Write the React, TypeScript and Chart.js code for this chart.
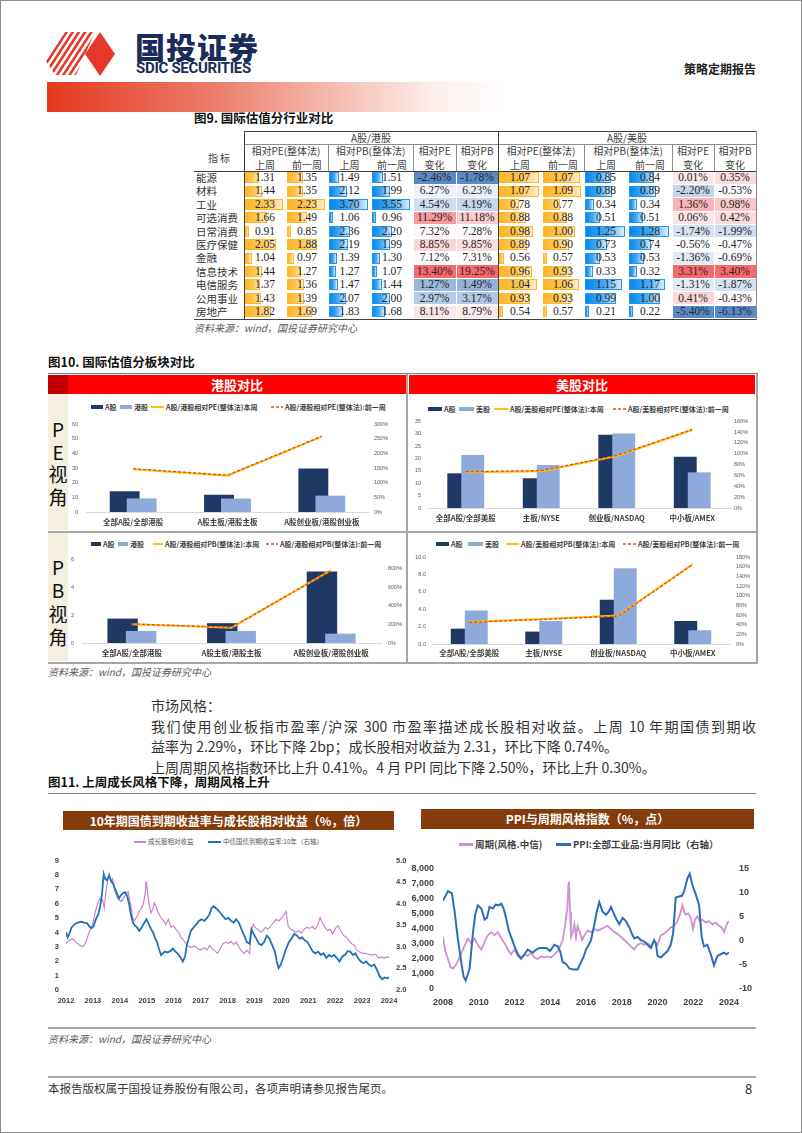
import React, { useEffect, useRef } from "react";
import { Chart, registerables } from "chart.js";

Chart.register(...registerables);

// ---------------- Figure 9 data ----------------
const industries = ["能源", "材料", "工业", "可选消费", "日常消费", "医疗保健", "金融", "信息技术", "电信服务", "公用事业", "房地产"];
const hkPeLast = [1.31, 1.44, 2.33, 1.66, 0.91, 2.05, 1.04, 1.44, 1.37, 1.43, 1.82];
const hkPePrev = [1.35, 1.35, 2.23, 1.49, 0.85, 1.88, 0.97, 1.27, 1.36, 1.39, 1.69];
const hkPbLast = [1.49, 2.12, 3.70, 1.06, 2.36, 2.19, 1.39, 1.27, 1.47, 2.07, 1.83];
const hkPbPrev = [1.51, 1.99, 3.55, 0.96, 2.20, 1.99, 1.30, 1.07, 1.44, 2.00, 1.68];
const hkPeChg = [-2.46, 6.27, 4.54, 11.29, 7.32, 8.85, 7.12, 13.40, 1.27, 2.97, 8.11];
const hkPbChg = [-1.78, 6.23, 4.19, 11.18, 7.28, 9.85, 7.31, 19.25, 1.49, 3.17, 8.79];
const usPeLast = [1.07, 1.07, 0.78, 0.88, 0.98, 0.89, 0.56, 0.96, 1.04, 0.93, 0.54];
const usPePrev = [1.07, 1.09, 0.77, 0.88, 1.00, 0.90, 0.57, 0.93, 1.06, 0.93, 0.57];
const usPbLast = [0.85, 0.88, 0.34, 0.51, 1.25, 0.73, 0.53, 0.33, 1.15, 0.99, 0.21];
const usPbPrev = [0.84, 0.89, 0.34, 0.51, 1.28, 0.74, 0.53, 0.32, 1.17, 1.00, 0.22];
const usPeChg = [0.01, -2.20, 1.36, 0.06, -1.74, -0.56, -1.36, 3.31, -1.31, 0.41, -5.40];
const usPbChg = [0.35, -0.53, 0.98, 0.42, -1.99, -0.47, -0.69, 3.40, -1.87, -0.43, -6.13];

// ---------------- Figure 10 data ----------------
const hkCategories = ["全部A股/全部港股", "A股主板/港股主板", "A股创业板/港股创业板"];
const usCategories = ["全部A股/全部美股", "主板/NYSE", "创业板/NASDAQ", "中小板/AMEX"];
const hkPeA = [14.2, 11.8, 29.8];
const hkPeH = [9.3, 9.2, 11.2];
const hkPeRatioNow = [146, 124, 258];
const hkPeRatioPrev = [148, 126, 259];
const usPeA = [14.0, 12.0, 29.6, 20.7];
const usPeU = [21.4, 17.4, 30.1, 14.4];
const usPeRatioNow = [66, 68, 96, 144];
const usPeRatioPrev = [67, 69, 97, 145];
const hkPbA = [1.75, 1.42, 5.12];
const hkPbH = [0.86, 0.86, 0.67];
const hkPbRatioNow = [202, 165, 783];
const hkPbRatioPrev = [205, 168, 780];
const usPbA = [1.77, 1.43, 5.11, 2.65];
const usPbU = [3.86, 2.65, 8.75, 1.58];
const usPbRatioNow = [46, 52, 59, 166];
const usPbRatioPrev = [45, 51, 58, 165];

// ---------------- Figure 11 data ----------------
const growthYears = [2012.00, 2012.12, 2012.25, 2012.37, 2012.50, 2012.62, 2012.72, 2012.80, 2012.90, 2012.99, 2013.08, 2013.18, 2013.27, 2013.36, 2013.42, 2013.49, 2013.55, 2013.61, 2013.67, 2013.73, 2013.82, 2013.92, 2014.04, 2014.14, 2014.23, 2014.31, 2014.39, 2014.48, 2014.54, 2014.64, 2014.72, 2014.81, 2014.88, 2014.95, 2014.98, 2015.03, 2015.09, 2015.16, 2015.22, 2015.28, 2015.34, 2015.43, 2015.53, 2015.63, 2015.71, 2015.80, 2015.90, 2015.99, 2016.08, 2016.18, 2016.27, 2016.37, 2016.46, 2016.54, 2016.64, 2016.76, 2016.89, 2017.01, 2017.14, 2017.24, 2017.33, 2017.43, 2017.53, 2017.63, 2017.73, 2017.83, 2017.93, 2018.03, 2018.13, 2018.23, 2018.32, 2018.42, 2018.52, 2018.62, 2018.72, 2018.82, 2018.89, 2018.96, 2019.02, 2019.12, 2019.22, 2019.31, 2019.41, 2019.51, 2019.61, 2019.71, 2019.81, 2019.91, 2020.01, 2020.11, 2020.18, 2020.25, 2020.35, 2020.45, 2020.55, 2020.65, 2020.75, 2020.85, 2020.95, 2021.05, 2021.15, 2021.25, 2021.34, 2021.44, 2021.52, 2021.62, 2021.72, 2021.81, 2021.91, 2022.01, 2022.11, 2022.21, 2022.31, 2022.41, 2022.51, 2022.61, 2022.71, 2022.80, 2022.90, 2023.00, 2023.13, 2023.25, 2023.37, 2023.50, 2023.62, 2023.72, 2023.82, 2023.92, 2024.00];
const growthRatio = [3.22, 3.45, 3.56, 3.33, 3.11, 3.00, 3.22, 3.67, 4.23, 4.57, 5.36, 6.04, 6.37, 6.26, 5.70, 6.94, 7.61, 8.06, 7.50, 7.72, 6.82, 6.37, 6.15, 6.37, 6.71, 6.82, 6.04, 5.02, 4.80, 5.14, 5.47, 5.70, 6.04, 6.82, 7.57, 6.82, 5.92, 5.36, 5.59, 6.04, 5.81, 5.36, 5.02, 4.80, 4.57, 4.91, 4.35, 4.46, 4.23, 4.01, 3.67, 3.45, 3.22, 3.06, 2.95, 3.06, 2.88, 2.77, 2.93, 2.77, 3.11, 2.88, 2.70, 2.55, 2.88, 3.22, 3.33, 3.22, 3.38, 3.15, 3.33, 3.00, 2.70, 2.55, 2.77, 2.55, 4.23, 4.57, 4.35, 4.23, 4.01, 4.12, 4.35, 4.23, 4.46, 4.68, 4.91, 4.80, 5.02, 5.25, 5.47, 4.46, 4.23, 4.12, 4.01, 4.12, 3.96, 4.23, 4.35, 4.28, 4.41, 4.23, 4.46, 5.02, 4.68, 4.35, 4.12, 4.23, 3.90, 4.28, 4.46, 4.12, 3.78, 3.67, 3.45, 3.22, 3.11, 2.77, 2.66, 2.55, 2.55, 2.48, 2.43, 2.48, 2.21, 2.32, 2.21, 2.32, 2.25];
const bondYears = [2012.00, 2012.06, 2012.12, 2012.21, 2012.31, 2012.43, 2012.56, 2012.68, 2012.78, 2012.87, 2012.95, 2013.03, 2013.11, 2013.20, 2013.27, 2013.34, 2013.40, 2013.46, 2013.52, 2013.60, 2013.67, 2013.75, 2013.82, 2013.89, 2013.97, 2014.04, 2014.12, 2014.19, 2014.26, 2014.34, 2014.41, 2014.49, 2014.56, 2014.64, 2014.72, 2014.81, 2014.91, 2014.99, 2015.08, 2015.16, 2015.23, 2015.30, 2015.38, 2015.45, 2015.53, 2015.60, 2015.68, 2015.77, 2015.87, 2015.97, 2016.07, 2016.17, 2016.27, 2016.34, 2016.42, 2016.49, 2016.57, 2016.64, 2016.74, 2016.84, 2016.94, 2017.04, 2017.14, 2017.24, 2017.33, 2017.41, 2017.48, 2017.56, 2017.63, 2017.73, 2017.83, 2017.93, 2018.03, 2018.13, 2018.23, 2018.32, 2018.42, 2018.52, 2018.62, 2018.72, 2018.82, 2018.89, 2018.97, 2019.07, 2019.17, 2019.26, 2019.36, 2019.46, 2019.56, 2019.66, 2019.76, 2019.83, 2019.90, 2019.98, 2020.08, 2020.18, 2020.28, 2020.38, 2020.48, 2020.58, 2020.68, 2020.77, 2020.87, 2020.97, 2021.07, 2021.17, 2021.27, 2021.37, 2021.47, 2021.57, 2021.67, 2021.77, 2021.86, 2021.96, 2022.06, 2022.16, 2022.26, 2022.36, 2022.46, 2022.56, 2022.66, 2022.75, 2022.85, 2022.95, 2023.05, 2023.15, 2023.25, 2023.35, 2023.45, 2023.55, 2023.65, 2023.75, 2023.84, 2023.94, 2024.00];
const bondYield = [3.34, 3.22, 3.30, 3.45, 3.52, 3.56, 3.58, 3.56, 3.55, 3.47, 3.43, 3.49, 3.64, 3.75, 3.94, 4.24, 4.69, 4.57, 4.54, 4.65, 4.54, 4.46, 4.35, 4.24, 4.12, 4.20, 4.24, 4.27, 4.20, 4.01, 3.75, 3.56, 3.49, 3.45, 3.37, 3.45, 3.56, 3.64, 3.52, 3.41, 3.34, 3.22, 3.11, 2.96, 2.81, 2.85, 2.89, 2.87, 2.90, 2.96, 2.89, 2.83, 2.74, 2.66, 2.77, 3.04, 3.22, 3.37, 3.45, 3.52, 3.60, 3.64, 3.60, 3.67, 3.75, 3.90, 3.94, 3.90, 3.86, 3.79, 3.71, 3.64, 3.67, 3.60, 3.56, 3.64, 3.56, 3.41, 3.26, 3.11, 3.07, 3.41, 3.30, 3.19, 3.07, 3.04, 3.11, 3.26, 3.19, 3.04, 2.89, 2.66, 2.51, 2.59, 2.77, 2.96, 3.11, 3.19, 3.30, 3.26, 3.19, 3.22, 3.15, 3.11, 3.00, 2.89, 2.85, 2.89, 2.81, 2.85, 2.74, 2.81, 2.77, 2.81, 2.74, 2.66, 2.77, 2.81, 2.90, 2.89, 2.81, 2.85, 2.74, 2.66, 2.62, 2.66, 2.59, 2.55, 2.59, 2.47, 2.32, 2.25, 2.29, 2.27, 2.30];
const cycleYears = [2008.00, 2008.13, 2008.28, 2008.41, 2008.56, 2008.71, 2008.89, 2009.08, 2009.27, 2009.40, 2009.58, 2009.77, 2009.95, 2010.14, 2010.33, 2010.51, 2010.70, 2010.88, 2011.07, 2011.26, 2011.44, 2011.63, 2011.81, 2012.00, 2012.19, 2012.37, 2012.56, 2012.74, 2012.93, 2013.12, 2013.30, 2013.49, 2013.67, 2013.86, 2014.05, 2014.23, 2014.42, 2014.55, 2014.70, 2014.79, 2014.88, 2014.96, 2015.01, 2015.05, 2015.11, 2015.16, 2015.26, 2015.35, 2015.44, 2015.53, 2015.63, 2015.78, 2015.91, 2016.09, 2016.28, 2016.47, 2016.65, 2016.84, 2017.02, 2017.21, 2017.40, 2017.58, 2017.77, 2017.95, 2018.14, 2018.33, 2018.51, 2018.70, 2018.88, 2019.07, 2019.26, 2019.44, 2019.63, 2019.81, 2020.00, 2020.19, 2020.37, 2020.56, 2020.74, 2020.93, 2021.12, 2021.25, 2021.40, 2021.49, 2021.58, 2021.73, 2021.86, 2021.99, 2022.10, 2022.23, 2022.36, 2022.51, 2022.70, 2022.88, 2023.07, 2023.26, 2023.44, 2023.59, 2023.72, 2023.81, 2023.91, 2024.00];
const cycleIndex = [3460, 2510, 1990, 1470, 1360, 1570, 1990, 2510, 3040, 3350, 3040, 3350, 2930, 2620, 3140, 3560, 3770, 3560, 3770, 3350, 3040, 2620, 2300, 2620, 2200, 1990, 2300, 2200, 2410, 2090, 1990, 2160, 2090, 2160, 2090, 2300, 2510, 2830, 3250, 3870, 4710, 5340, 6810, 7120, 5130, 3460, 3770, 4290, 3460, 4190, 3870, 3250, 3560, 3870, 3770, 3980, 3870, 3980, 4080, 4190, 3980, 3770, 3660, 3460, 3250, 3040, 2830, 2620, 2930, 3040, 2930, 3040, 2830, 3140, 2930, 3560, 3660, 3870, 4080, 4190, 4500, 4920, 5550, 5130, 4920, 5030, 4710, 3980, 4610, 4820, 4500, 4610, 4400, 4500, 4290, 4400, 4190, 4080, 3770, 4080, 4400, 4500];
const ppiYears = [2008.00, 2008.28, 2008.50, 2008.65, 2008.84, 2009.02, 2009.15, 2009.27, 2009.49, 2009.67, 2009.80, 2009.95, 2010.14, 2010.33, 2010.46, 2010.60, 2010.79, 2010.94, 2011.11, 2011.26, 2011.39, 2011.53, 2011.68, 2011.81, 2012.00, 2012.19, 2012.37, 2012.56, 2012.74, 2012.87, 2013.02, 2013.21, 2013.40, 2013.58, 2013.77, 2013.99, 2014.23, 2014.42, 2014.55, 2014.70, 2014.88, 2015.07, 2015.26, 2015.53, 2015.72, 2015.85, 2016.00, 2016.15, 2016.28, 2016.47, 2016.60, 2016.74, 2016.93, 2017.12, 2017.27, 2017.40, 2017.58, 2017.71, 2017.86, 2018.05, 2018.23, 2018.42, 2018.57, 2018.70, 2018.88, 2019.07, 2019.26, 2019.44, 2019.63, 2019.81, 2019.91, 2020.00, 2020.19, 2020.37, 2020.56, 2020.74, 2020.87, 2021.02, 2021.21, 2021.36, 2021.49, 2021.67, 2021.80, 2021.95, 2022.14, 2022.33, 2022.47, 2022.60, 2022.79, 2022.98, 2023.16, 2023.35, 2023.53, 2023.72, 2023.85, 2024.00];
const ppiYoY = [8.32, 10.29, 9.83, 6.03, 0.14, -4.44, -7.38, -8.23, -5.75, 1.45, 5.38, 7.34, 6.69, 4.40, 4.73, 7.02, 6.69, 7.47, 7.34, 7.67, 6.69, 4.73, 2.11, 0.80, -1.16, -2.80, -3.65, -2.80, -1.82, -2.15, -2.47, -1.82, -1.49, -1.49, -1.49, -2.15, -0.84, -1.16, -2.15, -4.44, -4.76, -5.75, -5.94, -5.94, -4.44, -3.46, -1.82, -0.84, 0.14, 3.42, 6.03, 8.00, 6.03, 5.38, 6.03, 7.02, 5.38, 4.40, 3.42, 4.73, 4.07, 2.76, 1.45, 0.47, 0.80, 0.14, -0.18, -0.84, -1.49, 0.14, -0.51, -3.13, -3.46, -2.80, -2.15, -0.84, 1.45, 8.98, 9.18, 9.31, 10.29, 12.91, 13.89, 11.60, 9.63, 7.34, 0.80, -1.16, -0.84, -2.80, -5.09, -3.13, -2.80, -2.47, -2.80, -2.47];

// ---------------- fonts / colours ----------------
const CJK = '"Noto Sans CJK SC", "Liberation Sans", sans-serif';
const SERIF = '"Liberation Serif", "Noto Sans CJK SC", serif';
const NAVY = "#1f3864";
const LIGHT = "#8eaadb";
const GOLD = "#ffc000";
const DASHRED = "#e8452c";

// draws datasets in index order (later datasets over earlier ones), keeping bar grouping order
const drawInIndexOrder = {
  id: "drawInIndexOrder",
  beforeDatasetsDraw(chart: any) {
    const n = chart.data.datasets.length;
    for (let i = 0; i < n; i++) {
      const meta = chart.getDatasetMeta(i);
      if (!meta.hidden) meta.controller.draw();
    }
    return false;
  },
};

// ---------------- helpers ----------------
function ChartCanvas({ x, y, w, h, make }: any) {
  const ref = useRef<HTMLCanvasElement>(null);
  useEffect(() => {
    const chart = new Chart(ref.current as HTMLCanvasElement, make());
    return () => chart.destroy();
  }, []);
  return <canvas ref={ref} width={w} height={h} style={{ position: "absolute", left: x, top: y, width: w, height: h }} />;
}

function T({ x, cy, size, children, style }: any) {
  return (
    <div style={{ position: "absolute", left: x, top: cy - size * 0.75, height: size * 1.5, lineHeight: `${size * 1.5}px`, fontSize: size, whiteSpace: "nowrap", fontFamily: CJK, ...style }}>
      {children}
    </div>
  );
}

function Box({ x, y, w, h, bg, style }: any) {
  return <div style={{ position: "absolute", left: x, top: y, width: w, height: h, background: bg, ...style }} />;
}

function comboConfig(p: any) {
  return {
    type: "bar",
    plugins: [drawInIndexOrder],
    data: {
      labels: p.cats,
      datasets: [
        { type: "bar", label: "A股", data: p.a, backgroundColor: NAVY, yAxisID: "y", categoryPercentage: p.cp, barPercentage: p.bp },
        { type: "bar", label: p.bLabel, data: p.b, backgroundColor: LIGHT, yAxisID: "y", categoryPercentage: p.cp, barPercentage: p.bp },
        { type: "line", label: "本周", data: p.now, borderColor: GOLD, borderWidth: 2, pointRadius: 0, yAxisID: "y1", fill: false },
        { type: "line", label: "前一周", data: p.prev, borderColor: DASHRED, borderWidth: 1.3, borderDash: [3, 2], pointRadius: 0, yAxisID: "y1", fill: false },
      ],
    },
    options: {
      responsive: false,
      maintainAspectRatio: false,
      animation: false,
      layout: { padding: { top: p.top, left: 0, right: 0, bottom: 0 } },
      plugins: { legend: { display: false }, tooltip: { enabled: false } },
      scales: {
        x: {
          grid: { display: false, drawTicks: false },
          border: { display: true, color: "#d9d9d9", width: 1 },
          ticks: { font: { family: CJK, size: 7.5, weight: "bold" }, color: "#404040", padding: p.xPad, autoSkip: false, maxRotation: 0 },
          afterFit: (s: any) => { s.height = p.xH; },
        },
        y: {
          position: "left", min: 0, max: p.yMax,
          grid: { display: false, drawTicks: false }, border: { display: false },
          ticks: { stepSize: p.yStep, font: { family: '"Liberation Sans"', size: 5.5 }, color: "#595959", padding: p.lPad, callback: p.yFmt },
          afterFit: (s: any) => { s.width = p.lW; },
        },
        y1: {
          position: "right", min: 0, max: p.y1Max,
          grid: { display: false, drawTicks: false }, border: { display: false },
          ticks: { stepSize: p.y1Step, font: { family: '"Liberation Sans"', size: 5.5 }, color: "#595959", padding: p.rPad, callback: (v: any) => v + "%" },
          afterFit: (s: any) => { s.width = p.rW; },
        },
      },
    },
  };
}

function lineConfig(p: any) {
  const tickFont = { family: '"Liberation Sans", sans-serif', size: p.fs, weight: "bold" };
  return {
    type: "line",
    data: {
      datasets: [
        { label: p.blueLabel, data: p.bx.map((x: number, i: number) => ({ x, y: p.by[i] })), borderColor: p.blue, borderWidth: p.bw, pointRadius: 0, yAxisID: "y1", order: 0 },
        { label: p.purpleLabel, data: p.px.map((x: number, i: number) => ({ x, y: p.py[i] })), borderColor: p.purple, borderWidth: p.pw, pointRadius: 0, yAxisID: "y", order: 1 },
      ],
    },
    options: {
      responsive: false,
      maintainAspectRatio: false,
      animation: false,
      layout: { padding: { top: p.top, left: 0, right: 0, bottom: 0 } },
      plugins: { legend: { display: false }, tooltip: { enabled: false } },
      scales: {
        x: {
          type: "linear", min: p.xMin, max: p.xMax,
          grid: { display: false, drawTicks: false }, border: { display: false },
          ticks: { stepSize: p.xStep, font: tickFont, color: "#404040", padding: p.xPad, callback: (v: any) => String(v), maxRotation: 0 },
          afterFit: (s: any) => { s.height = p.xH; },
        },
        y: {
          position: "left", min: p.yMin, max: p.yMax,
          grid: { display: false, drawTicks: false }, border: { display: false },
          ticks: { stepSize: p.yStep, font: tickFont, color: "#404040", padding: p.lPad, callback: p.yFmt },
          afterFit: (s: any) => { s.width = p.lW; },
        },
        y1: {
          position: "right", min: p.y1Min, max: p.y1Max,
          grid: { display: false, drawTicks: false }, border: { display: false },
          ticks: { stepSize: p.y1Step, font: tickFont, color: "#404040", padding: p.rPad, callback: p.y1Fmt },
          afterFit: (s: any) => { s.width = p.rW; },
        },
      },
    },
  };
}

// ---------------- Figure 9 table ----------------
const colX = [193, 243, 285, 327, 370, 412, 455, 497, 541, 583, 627, 671, 713, 755];
const ROW0 = 170;
const RH = 13.4;

function heatColor(v: number, arr: number[]) {
  const s = [...arr].sort((a, b) => a - b);
  const min = s[0], max = s[s.length - 1], med = s[Math.floor(s.length / 2)];
  const lo = [90, 138, 198], mid = [252, 252, 255], hi = [248, 105, 107];
  let a = lo, b = mid, t = 0;
  if (v <= med) { a = lo; b = mid; t = med === min ? 1 : (v - min) / (med - min); }
  else { a = mid; b = hi; t = (v - med) / (max - med); }
  const c = a.map((x, i) => Math.round(x + (b[i] - x) * t));
  return `rgb(${c.join(",")})`;
}

function Table9() {
  const columns = [hkPeLast, hkPePrev, hkPbLast, hkPbPrev, hkPeChg, hkPbChg, usPeLast, usPePrev, usPbLast, usPbPrev, usPeChg, usPbChg];
  const kinds = ["pe", "pe", "pb", "pb", "chg", "chg", "pe", "pe", "pb", "pb", "chg", "chg"];
  const cells: any[] = [];
  columns.forEach((col, c) => {
    const x0 = colX[c + 1];
    const w = colX[c + 2] - x0;
    const min = Math.min(...col), max = Math.max(...col);
    col.forEach((v, r) => {
      const y0 = ROW0 + r * RH;
      const k = kinds[c];
      if (k === "chg") {
        cells.push(<Box key={`b${c}-${r}`} x={x0 + 0.5} y={y0 + 0.5} w={w - 1} h={RH - 1} bg={heatColor(v, col)} />);
      } else {
        const frac = 0.1 + 0.88 * (v - min) / (max - min);
        const grad = k === "pe"
          ? "linear-gradient(to right, #ffb628 0%, #ffc654 55%, #ffeccb 100%)"
          : "linear-gradient(to right, #008aef 0%, #4aaaf2 55%, #d6ecfc 100%)";
        const bc = k === "pe" ? "#ffb628" : "#2b95e8";
        cells.push(<Box key={`b${c}-${r}`} x={x0 + 1} y={y0 + 1.2} w={(w - 3) * frac} h={RH - 2.4} bg={grad} style={{ boxSizing: "border-box", border: `1px solid ${bc}` }} />);
      }
      const label = k === "chg" ? `${v.toFixed(2)}%` : v.toFixed(2);
      cells.push(
        <div key={`t${c}-${r}`} style={{ position: "absolute", left: x0, top: y0, width: w, height: RH, lineHeight: `${RH}px`, textAlign: "center", fontFamily: SERIF, fontSize: 11.5, color: "#262626" }}>{label}</div>
      );
    });
  });
  const hdr = { fontFamily: CJK, fontSize: 10, color: "#404040", textAlign: "center" as const, position: "absolute" as const };
  const H = (x0: number, x1: number, y0: number, y1: number, text: string, key: string) => (
    <div key={key} style={{ ...hdr, left: x0, width: x1 - x0, top: y0, height: y1 - y0, lineHeight: `${y1 - y0}px` }}>{text}</div>
  );
  const headers: any[] = [];
  headers.push(H(193, 243, 143, 170, "指  标", "zb"));
  headers.push(H(243, 497, 130, 143, "A股/港股", "g1"));
  headers.push(H(497, 755, 130, 143, "A股/美股", "g2"));
  [0, 6].forEach((o) => {
    headers.push(H(colX[1 + o], colX[3 + o], 143, 157, "相对PE(整体法)", `pe${o}`));
    headers.push(H(colX[3 + o], colX[5 + o], 143, 157, "相对PB(整体法)", `pb${o}`));
    headers.push(H(colX[5 + o], colX[6 + o], 143, 157, "相对PE", `cpe${o}`));
    headers.push(H(colX[6 + o], colX[7 + o], 143, 157, "相对PB", `cpb${o}`));
    headers.push(H(colX[1 + o], colX[2 + o], 157, 170, "上周", `a${o}`));
    headers.push(H(colX[2 + o], colX[3 + o], 157, 170, "前一周", `b${o}`));
    headers.push(H(colX[3 + o], colX[4 + o], 157, 170, "上周", `c${o}`));
    headers.push(H(colX[4 + o], colX[5 + o], 157, 170, "前一周", `d${o}`));
    headers.push(H(colX[5 + o], colX[6 + o], 157, 170, "变化", `e${o}`));
    headers.push(H(colX[6 + o], colX[7 + o], 157, 170, "变化", `f${o}`));
  });
  const dark = "#404040", mid = "#8c8c8c";
  return (
    <>
      {cells}
      {headers}
      {industries.map((n, r) => (
        <div key={n} style={{ position: "absolute", left: 195, top: ROW0 + r * RH, height: RH, lineHeight: `${RH}px`, fontFamily: CJK, fontSize: 10.5, color: "#333" }}>{n}</div>
      ))}
      <Box x={243} y={129.5} w={512} h={1} bg={dark} />
      <Box x={243} y={142.5} w={512} h={1} bg={mid} />
      <Box x={193} y={169.5} w={562} h={1.2} bg={dark} />
      <Box x={193} y={317.5} w={562} h={1.5} bg={dark} />
      <Box x={242.5} y={129.5} w={1} h={189} bg={dark} />
      <Box x={496.5} y={129.5} w={1} h={189} bg={dark} />
      <Box x={754.5} y={129.5} w={1} h={189} bg={mid} />
      {[327, 412, 455, 583, 671, 713].map((x) => <Box key={x} x={x - 0.5} y={143} w={1} h={27} bg={mid} />)}
    </>
  );
}

// ---------------- legends ----------------
function MiniLegend({ cy, items }: any) {
  return (
    <>
      {items.map((it: any, i: number) => (
        <React.Fragment key={i}>
          {it[2] === "bar" && <Box x={it[0]} y={cy - 1.8} w={it[1]} h={3.6} bg={it[3]} />}
          {it[2] === "line" && <Box x={it[0]} y={cy - 1} w={it[1]} h={2} bg={it[3]} />}
          {it[2] === "dash" && (
            <svg style={{ position: "absolute", left: it[0], top: cy - 2 }} width={it[1]} height={4}>
              <line x1={0} y1={2} x2={it[1]} y2={2} stroke={it[3]} strokeWidth={1.5} strokeDasharray="3 2" />
            </svg>
          )}
          <T x={it[0] + it[1] + 2} cy={cy} size={it[5] || 7} style={{ fontWeight: 700, color: "#404040" }}>{it[4]}</T>
        </React.Fragment>
      ))}
    </>
  );
}

function Logo() {
  const stripes = [];
  for (let i = 0; i < 9; i++) {
    const x = -14 + i * 6.2;
    stripes.push(<line key={i} x1={x} y1={46} x2={x + 30} y2={0} stroke="#e5382a" strokeWidth={2.6} />);
  }
  return (
    <svg style={{ position: "absolute", left: 44, top: 30 }} width={72} height={46} viewBox="0 0 72 46">
      <defs>
        <clipPath id="lg">
          <polygon points="1,30 20,1 50,1 31,44 10,44" />
        </clipPath>
      </defs>
      <g clipPath="url(#lg)">{stripes}</g>
      <polygon points="40,23 55,1 70,23 55,45" fill="#e5382a" />
    </svg>
  );
}

export default function App() {
  const gray = "#a6a6a6";
  return (
    <div style={{ position: "relative", width: 802, height: 1133, background: "#fff", overflow: "hidden", boxSizing: "border-box", border: "1px solid #8c8c8c", fontFamily: CJK }}>
      <style>{`body{margin:0;}`}</style>

      {/* Header */}
      <Logo />
      <div style={{ position: "absolute", left: 134, top: 27, fontFamily: CJK, fontWeight: 900, fontSize: 30, lineHeight: "36px", color: "#1c2b5a", letterSpacing: 1 }}>国投证券</div>
      <div style={{ position: "absolute", left: 135, top: 59, fontFamily: '"Roboto", "Liberation Sans"', fontWeight: 700, fontSize: 15, lineHeight: "16px", color: "#1c2b5a", transform: "scaleX(1.0)", transformOrigin: "left center", whiteSpace: "nowrap", letterSpacing: -0.3 }}>SDIC SECURITIES</div>
      <T x={683} cy={68} size={12} style={{ fontWeight: 700, color: "#222" }}>策略定期报告</T>
      <Box x={46} y={81} w={456} h={30} bg="linear-gradient(to right, #e5391f 0%, #ec7a66 35%, #f5c0b6 65%, #fdeeeb 85%, #ffffff 100%)" />

      {/* Figure 9 */}
      <T x={193} cy={117} size={12.5} style={{ fontWeight: 700, color: "#111" }}>图9. 国际估值分行业对比</T>
      <Table9 />
      <T x={193} cy={326} size={10} style={{ fontStyle: "italic", color: "#595959" }}>资料来源：wind，国投证券研究中心</T>

      {/* Figure 10 */}
      <T x={47} cy={361} size={12.5} style={{ fontWeight: 700, color: "#111" }}>图10. 国际估值分板块对比</T>
      <Box x={47} y={371.5} w={710} h={1.5} bg="#7f7f7f" />
      <Box x={47} y={374} w={20} h={19} bg="#c00000" />
      <Box x={67} y={374} w={338} h={19} bg="#ff0000" />
      <div style={{ position: "absolute", left: 67, top: 374, width: 338, height: 19, lineHeight: "19px", textAlign: "center", color: "#fff", fontWeight: 700, fontSize: 13, fontFamily: CJK }}>港股对比</div>
      <Box x={408} y={374} w={346} h={19} bg="#ff0000" />
      <div style={{ position: "absolute", left: 408, top: 374, width: 346, height: 19, lineHeight: "19px", textAlign: "center", color: "#fff", fontWeight: 700, fontSize: 13, fontFamily: CJK }}>美股对比</div>
      <Box x={47} y={393} w={20} h={136} bg="#f5efe1" />
      <Box x={47} y={532} w={20} h={128} bg="#f5efe1" />
      {["P", "E", "视", "角"].map((ch, i) => (
        <div key={"pe" + ch} style={{ position: "absolute", left: 47, width: 20, top: 416 + i * 22.7, height: 23, lineHeight: "23px", textAlign: "center", fontSize: 19, fontFamily: CJK, color: "#111" }}>{ch}</div>
      ))}
      {["P", "B", "视", "角"].map((ch, i) => (
        <div key={"pb" + ch} style={{ position: "absolute", left: 47, width: 20, top: 554 + i * 23.3, height: 23, lineHeight: "23px", textAlign: "center", fontSize: 19, fontFamily: CJK, color: "#111" }}>{ch}</div>
      ))}
      <Box x={405} y={373} w={2} h={289} bg={gray} />
      <Box x={755} y={373} w={2} h={289} bg={gray} />
      <Box x={47} y={529.5} w={710} h={2} bg={gray} />
      <Box x={47} y={660.5} w={710} h={2} bg={gray} />

      <MiniLegend cy={406} items={[[90, 12, "bar", NAVY, "A股"], [119, 12, "bar", LIGHT, "港股"], [150, 13, "line", GOLD, "A股/港股相对PE(整体法)本周"], [270, 12, "dash", DASHRED, "A股/港股相对PE(整体法):前一周"]]} />
      <MiniLegend cy={408} items={[[427, 14, "bar", NAVY, "A股"], [458, 15, "bar", LIGHT, "美股"], [493, 14, "line", GOLD, "A股/美股相对PE(整体法):本周"], [612, 13, "dash", DASHRED, "A股/美股相对PE(整体法):前一周"]]} />
      <MiniLegend cy={543} items={[[90, 10, "bar", NAVY, "A股"], [117, 10, "bar", LIGHT, "港股"], [152, 10, "line", GOLD, "A股/港股相对PB(整体法):本周"], [265, 12, "dash", DASHRED, "A股/港股相对PB(整体法):前一周"]]} />
      <MiniLegend cy={543} items={[[435, 13, "bar", NAVY, "A股"], [467, 15, "bar", LIGHT, "美股"], [505, 13, "line", GOLD, "A股/美股相对PB(整体法):本周"], [622, 13, "dash", DASHRED, "A股/美股相对PB(整体法):前一周"]]} />

      <ChartCanvas x={67} y={412} w={337} h={118} make={() => comboConfig({ cats: hkCategories, a: hkPeA, b: hkPeH, bLabel: "港股", now: hkPeRatioNow, prev: hkPeRatioPrev, yMax: 60, yStep: 10, y1Max: 300, y1Step: 50, cp: 0.36, bp: 1.76, lW: 18, rW: 36, top: 6, xH: 19, xPad: 6, lPad: 8, rPad: 5 })} />
      <ChartCanvas x={408} y={410} w={347} h={120} make={() => comboConfig({ cats: usCategories, a: usPeA, b: usPeU, bLabel: "美股", now: usPeRatioNow, prev: usPeRatioPrev, yMax: 35, yStep: 5, y1Max: 160, y1Step: 20, cp: 0.37, bp: 1.64, lW: 19, rW: 26, top: 4, xH: 23, xPad: 6, lPad: 7, rPad: 4 })} />
      <ChartCanvas x={67} y={547} w={337} h={115} make={() => comboConfig({ cats: hkCategories, a: hkPbA, b: hkPbH, bLabel: "港股", now: hkPbRatioNow, prev: hkPbRatioPrev, yMax: 6, yStep: 2, y1Max: 900, y1Step: 100, cp: 0.37, bp: 1.65, lW: 14, rW: 24, top: 6, xH: 20, xPad: 6, lPad: 8, rPad: 7 })} />
      <ChartCanvas x={408} y={547} w={347} h={115} make={() => comboConfig({ cats: usCategories, a: usPbA, b: usPbU, bLabel: "美股", now: usPbRatioNow, prev: usPbRatioPrev, yMax: 10, yStep: 1, yFmt: (v: any) => Number(v).toFixed(1), y1Max: 180, y1Step: 20, cp: 0.376, bp: 1.64, lW: 23, rW: 26, top: 6, xH: 19, xPad: 5, lPad: 6, rPad: 6 })} />
      <T x={47} cy={670} size={10} style={{ fontStyle: "italic", color: "#595959" }}>资料来源：wind，国投证券研究中心</T>

      {/* Paragraph */}
      <div style={{ position: "absolute", left: 150, top: 694, width: 605, fontFamily: CJK, fontSize: 14, lineHeight: "20.6px", color: "#333" }}>
        <div>市场风格：</div>
        <div style={{ textAlign: "justify", textAlignLast: "justify" as any, whiteSpace: "nowrap" }}>我们使用创业板指市盈率/沪深 300 市盈率描述成长股相对收益。上周 10 年期国债到期收</div>
        <div>益率为 2.29%，环比下降 2bp；成长股相对收益为 2.31，环比下降 0.74%。</div>
        <div>上周周期风格指数环比上升 0.41%。4 月 PPI 同比下降 2.50%，环比上升 0.30%。</div>
      </div>

      {/* Figure 11 */}
      <T x={47} cy={781} size={12.5} style={{ fontWeight: 700, color: "#111" }}>图11. 上周成长风格下降，周期风格上升</T>
      <Box x={47} y={791.5} w={708} h={1.5} bg="#7f7f7f" />

      <Box x={62} y={810} w={331} h={19} bg="#843c0c" />
      <div style={{ position: "absolute", left: 62, top: 810, width: 331, height: 19, lineHeight: "19px", textAlign: "center", color: "#fff", fontWeight: 700, fontSize: 12, fontFamily: CJK }}>10年期国债到期收益率与成长股相对收益（%，倍）</div>
      <Box x={420} y={808} w={333} h={20} bg="#843c0c" />
      <div style={{ position: "absolute", left: 420, top: 808, width: 333, height: 20, lineHeight: "20px", textAlign: "center", color: "#fff", fontWeight: 700, fontSize: 12, fontFamily: CJK }}>PPI与周期风格指数（%，点）</div>

      <Box x={133} y={840.3} w={12} h={1.5} bg="#c983cd" />
      <T x={147} cy={841} size={6.5} style={{ color: "#595959" }}>成长股相对收益</T>
      <Box x={207} y={840} w={13} h={2} bg="#1f72b8" />
      <T x={222} cy={841} size={6.5} style={{ color: "#595959" }}>中债国债到期收益率:10年（右轴）</T>

      <Box x={458} y={841.5} w={14} h={3} bg="#cf8fd3" />
      <T x={474} cy={843} size={9.5} style={{ color: "#404040", fontWeight: 700 }}>周期(风格.中信)</T>
      <Box x={555} y={841.5} w={15} h={3} bg="#2a6ebb" />
      <T x={572} cy={843} size={9.5} style={{ color: "#404040", fontWeight: 700 }}>PPI:全部工业品:当月同比（右轴）</T>

      <ChartCanvas x={50} y={848} w={360} h={162} make={() => lineConfig({
        bx: bondYears, by: bondYield, px: growthYears, py: growthRatio,
        blueLabel: "中债国债到期收益率:10年（右轴）", purpleLabel: "成长股相对收益",
        blue: "#1f72b8", purple: "#c983cd", bw: 1.8, pw: 1.2,
        xMin: 2012, xMax: 2024, xStep: 1, yMin: 0, yMax: 9, yStep: 1, y1Min: 2, y1Max: 5, y1Step: 0.5,
        yFmt: (v: any) => String(v), y1Fmt: (v: any) => Number(v).toFixed(1),
        fs: 7.5, lW: 15, rW: 22, top: 8, xH: 21, xPad: 6, lPad: 7, rPad: 7,
      })} />
      <ChartCanvas x={405} y={852} w={360} h={160} make={() => lineConfig({
        bx: ppiYears, by: ppiYoY, px: cycleYears, py: cycleIndex,
        blueLabel: "PPI:全部工业品:当月同比（右轴）", purpleLabel: "周期(风格.中信)",
        blue: "#2a6ebb", purple: "#cf8fd3", bw: 2, pw: 1.8,
        xMin: 2008, xMax: 2024, xStep: 2, yMin: 0, yMax: 8000, yStep: 1000, y1Min: -10, y1Max: 15, y1Step: 5,
        yFmt: (v: any) => Number(v).toLocaleString("en-US"), y1Fmt: (v: any) => String(v),
        fs: 9, lW: 37, rW: 37, top: 9, xH: 24, xPad: 8, lPad: 9, rPad: 10,
      })} />

      {/* Footer */}
      <Box x={47} y={1026} w={708} h={2} bg={gray} />
      <T x={47} cy={1037} size={10} style={{ fontStyle: "italic", color: "#595959" }}>资料来源：wind，国投证券研究中心</T>
      <Box x={47} y={1075} w={708} h={2} bg={gray} />
      <T x={47} cy={1088} size={11.5} style={{ color: "#333" }}>本报告版权属于国投证券股份有限公司，各项声明请参见报告尾页。</T>
      <T x={744} cy={1088} size={13} style={{ color: "#333" }}>8</T>
    </div>
  );
}
